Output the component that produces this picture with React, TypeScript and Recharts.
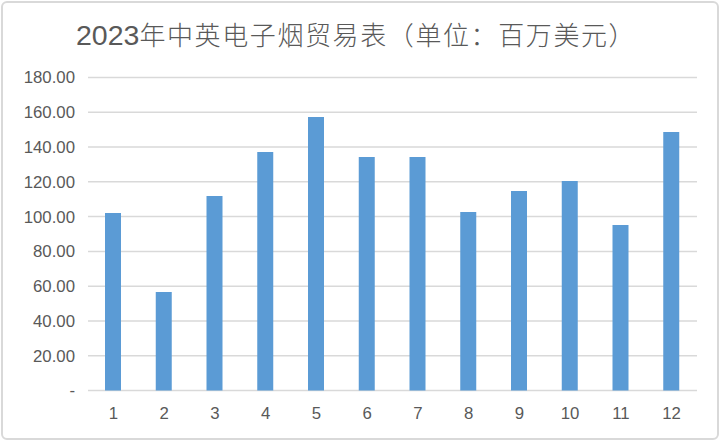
import { BarChart, Bar, XAxis, YAxis, CartesianGrid } from 'recharts'

const months = ['1', '2', '3', '4', '5', '6', '7', '8', '9', '10', '11', '12']
const trade = [102.1, 56.6, 111.8, 137.1, 157.3, 134.3, 134.3, 102.6, 114.7, 120.5, 95.2, 148.6]
const yTicks = [0, 20, 40, 60, 80, 100, 120, 140, 160, 180]

const data = months.map((m, i) => ({ month: m, value: trade[i] }))

const FONT = '"Liberation Sans", "Noto Sans CJK SC", sans-serif'
const tickStyle = { fontSize: 16.8, fill: '#595959', fontFamily: FONT }

function fmtY(v: number) {
  return v === 0 ? '-' : v.toFixed(2)
}

export default function App() {
  return (
    <div style={{ position: 'absolute', left: 0, top: 0, width: 720, height: 440, background: '#fff' }}>
      <div style={{
        position: 'absolute', left: 1, top: 1, width: 714, height: 435,
        border: '2px solid #D9D9D9', borderRadius: 6,
      }} />
      <div style={{
        position: 'absolute', left: 76, top: 21, lineHeight: '26px',
        fontFamily: '"Noto Sans CJK SC", sans-serif', fontSize: 26, fontWeight: 300,
        letterSpacing: 1.6, color: '#595959', whiteSpace: 'nowrap',
      }}>
        <span style={{ fontFamily: '"Liberation Sans", sans-serif', fontSize: 28.5, letterSpacing: 0 }}>2023</span>
        年中英电子烟贸易表（单位：百万美元）
      </div>
      <div style={{ position: 'absolute', left: 0, top: 0 }}>
        <BarChart
          width={720}
          height={440}
          data={data}
          margin={{ top: 77.5, right: 23, bottom: 19.5, left: 8 }}
        >
          <CartesianGrid stroke="#D9D9D9" strokeWidth={1.5} vertical={false} />
          <XAxis
            dataKey="month"
            height={30}
            axisLine={false}
            tickLine={false}
            tick={tickStyle}
            tickMargin={11}
            interval={0}
          />
          <YAxis
            width={80}
            domain={[0, 180]}
            ticks={yTicks}
            tickFormatter={fmtY}
            axisLine={false}
            tickLine={false}
            tick={tickStyle}
            tickMargin={7}
            interval={0}
          />
          <Bar dataKey="value" fill="#5B9BD5" barSize={16} isAnimationActive={false} />
        </BarChart>
      </div>
    </div>
  )
}
